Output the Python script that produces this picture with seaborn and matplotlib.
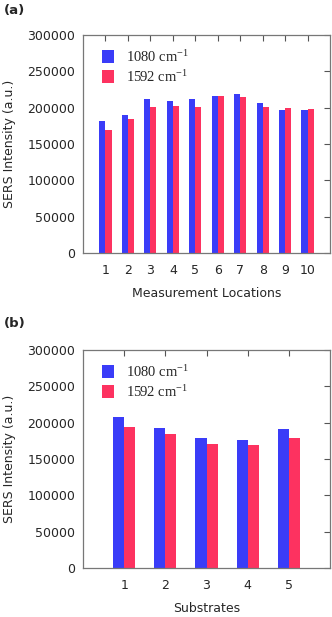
import numpy as np
import pandas as pd
import matplotlib
matplotlib.use("Agg")
import matplotlib.pyplot as plt
import seaborn as sns

# data
locations = [str(i) for i in range(1, 11)]
loc_1080 = [181800, 189500, 212300, 209100, 212300, 215900, 218600, 205900, 196800, 196800]
loc_1592 = [169500, 184000, 201400, 202300, 201400, 215900, 215000, 201400, 199200, 197700]

substrates = [str(i) for i in range(1, 6)]
sub_1080 = [207300, 193100, 178900, 176600, 191300]
sub_1592 = [194500, 184400, 170200, 168800, 178900]

series = ["1080 cm$^{-1}$", "1592 cm$^{-1}$"]
colors = ["#3a3cf8", "#fd3260"]

sns.set_style("white")
plt.rcParams["font.family"] = ["DejaVu Sans"]
plt.rcParams["mathtext.fontset"] = "custom"
plt.rcParams["mathtext.rm"] = "Liberation Serif"
plt.rcParams["mathtext.default"] = "rm"

fig = plt.figure(figsize=(3.32, 6.17), dpi=100)
ax_a = fig.add_axes([0.250, 0.590, 0.744, 0.353])
ax_b = fig.add_axes([0.250, 0.0795, 0.744, 0.353])


def long_df(cats, s1, s2):
    return pd.DataFrame({
        "cat": cats * 2,
        "value": s1 + s2,
        "series": [series[0]] * len(cats) + [series[1]] * len(cats),
    })


def draw(ax, cats, s1, s2, xlabel):
    df = long_df(cats, s1, s2)
    sns.barplot(data=df, x="cat", y="value", hue="series", order=cats,
                hue_order=series, palette=colors, width=0.54, saturation=1,
                ax=ax, edgecolor="none", linewidth=0, legend=True)
    ax.set_xlim(-1, len(cats))
    ax.set_ylim(0, 300000)
    ax.set_yticks(np.arange(0, 300001, 50000))
    ax.set_xlabel(xlabel, fontsize=9, labelpad=7)
    ax.set_ylabel("SERS Intensity (a.u.)", fontsize=9, labelpad=8)
    ax.tick_params(axis="both", which="both", direction="in", length=4,
                   width=0.8, color="#555555", labelsize=9,
                   top=True, right=True)
    ax.tick_params(axis="x", pad=8)
    ax.tick_params(axis="y", pad=5.5)
    for sp in ax.spines.values():
        sp.set_visible(True)
        sp.set_color("#777777")
        sp.set_linewidth(0.9)
    h, l = ax.get_legend_handles_labels()
    ax.legend(h, l, loc="upper left", bbox_to_anchor=(0.035, 0.985),
              frameon=False, handlelength=0.85, handleheight=1.0,
              handletextpad=0.8, labelspacing=0.3, borderaxespad=0.3,
              prop={"family": "Liberation Serif", "size": 10.5})


draw(ax_a, locations, loc_1080, loc_1592, "Measurement Locations")
draw(ax_b, substrates, sub_1080, sub_1592, "Substrates")

fig.text(0.012, 0.993, "(a)", fontsize=9.5, fontweight="bold", va="top")
fig.text(0.012, 0.487, "(b)", fontsize=9.5, fontweight="bold", va="top")

fig.savefig("out.png", dpi=100)
